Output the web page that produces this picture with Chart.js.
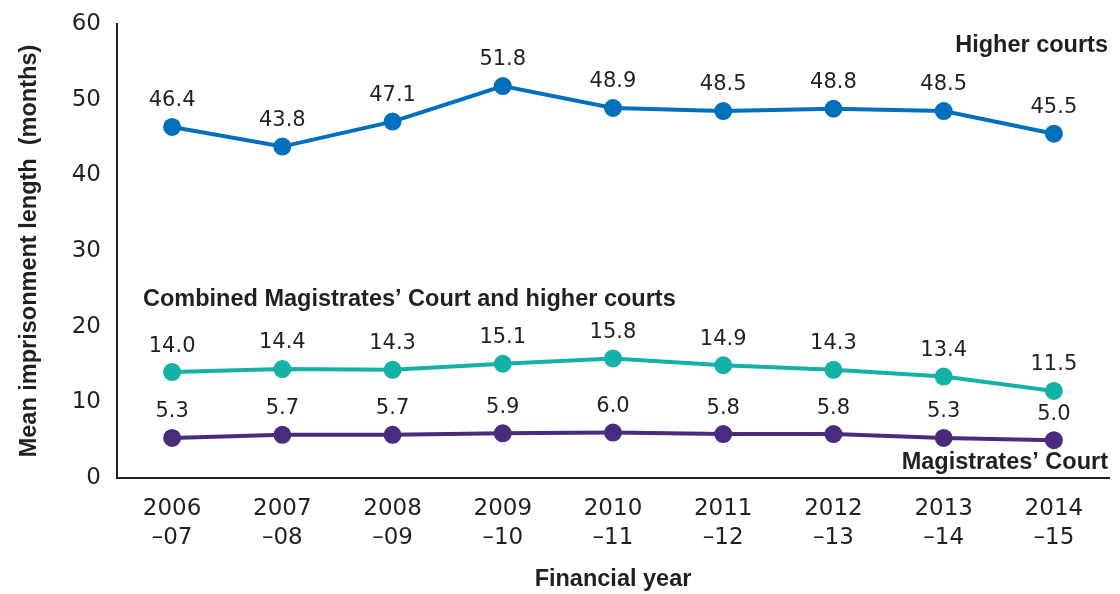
<!DOCTYPE html>
<html>
<head>
<meta charset="utf-8">
<script src="https://cdn.jsdelivr.net/npm/chart.js@4"></script>
<style>
  html, body { margin: 0; padding: 0; background: #fff; }
  #wrap { width: 1120px; height: 594px; }
</style>
</head>
<body>
<div id="wrap"><canvas id="myChart" width="1120" height="594"></canvas></div>
<script>
const years = [
  ["2006", "–07"], ["2007", "–08"], ["2008", "–09"], ["2009", "–10"], ["2010", "–11"],
  ["2011", "–12"], ["2012", "–13"], ["2013", "–14"], ["2014", "–15"],
];
const higherCourts = [46.4, 43.8, 47.1, 51.8, 48.9, 48.5, 48.8, 48.5, 45.5];
const combinedCourts = [14.0, 14.4, 14.3, 15.1, 15.8, 14.9, 14.3, 13.4, 11.5];
const magistratesCourt = [5.3, 5.7, 5.7, 5.9, 6.0, 5.8, 5.8, 5.3, 5.0];
const yTicks = [0, 10, 20, 30, 40, 50, 60];

const FONT = "'DejaVu Sans', sans-serif";
const BOLD = "'Liberation Sans', Arial, sans-serif";
const TEXT = "#231f20";

const series = (label, data, color) => ({
  label,
  data,
  borderColor: color,
  backgroundColor: color,
  borderWidth: 4,
  pointRadius: 7,
  pointHoverRadius: 7,
  tension: 0,
});

// value labels above the points plus the series names
const labelsPlugin = {
  id: "labels",
  afterDatasetsDraw(chart) {
    const ctx = chart.ctx;
    const area = chart.chartArea;
    ctx.save();
    ctx.fillStyle = TEXT;
    ctx.font = "21px " + FONT;
    ctx.textAlign = "center";
    ctx.textBaseline = "middle";
    chart.data.datasets.forEach((ds, i) => {
      chart.getDatasetMeta(i).data.forEach((pt, j) => {
        ctx.fillText(ds.data[j].toFixed(1), pt.x, pt.y - 26);
      });
    });

    const y = chart.scales.y;
    ctx.font = "bold 23.5px " + BOLD;
    ctx.textAlign = "right";
    ctx.fillText("Higher courts", area.right - 1, y.getPixelForValue(57.1));
    ctx.fillText("Magistrates’ Court", area.right - 1, y.getPixelForValue(2.0));
    ctx.textAlign = "left";
    ctx.fillText("Combined Magistrates’ Court and higher courts", area.left + 26, y.getPixelForValue(23.6));
    ctx.restore();
  },
};

const ctx = document.getElementById("myChart").getContext("2d");
const myChart = new Chart(ctx, {
  type: "line",
  data: {
    labels: years,
    datasets: [
      series("Higher courts", higherCourts, "#0070bd"),
      series("Combined Magistrates’ Court and higher courts", combinedCourts, "#13b1a6"),
      series("Magistrates’ Court", magistratesCourt, "#4a2b7e"),
    ],
  },
  options: {
    responsive: false,
    animation: false,
    layout: { padding: { top: 24, right: 6, left: 15, bottom: 0 } },
    plugins: {
      legend: { display: false },
      tooltip: { enabled: false },
    },
    scales: {
      x: {
        offset: true,
        grid: { display: false, drawTicks: false },
        border: { display: true, color: "#231f20", width: 2 },
        ticks: {
          color: TEXT,
          font: { family: FONT, size: 23, lineHeight: 1.25 },
          padding: 17,
          maxRotation: 0,
          autoSkip: false,
        },
        title: {
          display: true,
          text: "Financial year",
          color: TEXT,
          font: { family: BOLD, size: 23.5, weight: "bold" },
          padding: { top: 12, bottom: 0 },
        },
        afterFit(scale) {
          scale.height = 116;
          scale.paddingLeft = 0;
          scale.paddingRight = 0;
        },
      },
      y: {
        min: 0,
        max: 60,
        afterBuildTicks(scale) { scale.ticks = yTicks.map((v) => ({ value: v })); },
        grid: { display: false, drawTicks: false },
        border: { display: true, color: "#231f20", width: 2 },
        ticks: {
          color: TEXT,
          font: { family: FONT, size: 23 },
          padding: 16,
        },
        title: {
          display: true,
          text: "Mean imprisonment length  (months)",
          color: TEXT,
          font: { family: BOLD, size: 23.5, weight: "bold" },
          padding: { top: 0, bottom: 10 },
        },
        afterFit(scale) {
          scale.width = 102;
          scale.paddingTop = 0;
          scale.paddingBottom = 0;
        },
      },
    },
  },
  plugins: [labelsPlugin],
});
</script>
</body>
</html>
